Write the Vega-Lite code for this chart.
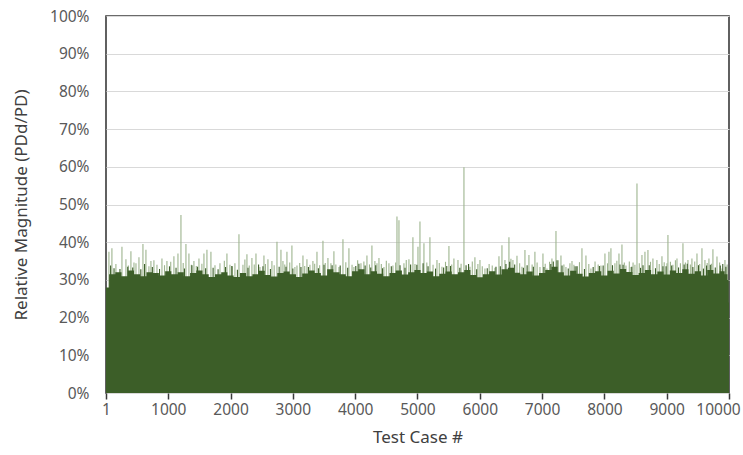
{
  "$schema": "https://vega.github.io/schema/vega-lite/v6.json",
  "width": 623,
  "height": 377,
  "autosize": "none",
  "padding": {"left": 106, "top": 16, "right": 14, "bottom": 62},
  "config": {
    "view": {"stroke": "#3a3a3a", "strokeWidth": 1.6},
    "font": "Noto Sans",
    "axis": {"labelColor": "#595959", "titleColor": "#404040", "labelFont": "Noto Sans", "titleFont": "Noto Sans", "titleFontWeight": "normal"}
  },
  "datasets": {
    "base": [
      {"case": 1, "pct": 28}, {"case": 100, "pct": 31.5}, {"case": 200, "pct": 32}, {"case": 300, "pct": 31}, {"case": 400, "pct": 32.5},
      {"case": 500, "pct": 31.5}, {"case": 600, "pct": 31}, {"case": 700, "pct": 32}, {"case": 800, "pct": 31.8}, {"case": 900, "pct": 31.2},
      {"case": 1000, "pct": 32.3}, {"case": 1100, "pct": 31.5}, {"case": 1200, "pct": 32}, {"case": 1300, "pct": 31}, {"case": 1400, "pct": 31.8},
      {"case": 1500, "pct": 32.5}, {"case": 1600, "pct": 31.5}, {"case": 1700, "pct": 30.8}, {"case": 1800, "pct": 31.5}, {"case": 1900, "pct": 32},
      {"case": 2000, "pct": 31.2}, {"case": 2100, "pct": 30.8}, {"case": 2200, "pct": 31.8}, {"case": 2300, "pct": 31}, {"case": 2400, "pct": 31.5},
      {"case": 2500, "pct": 32.4}, {"case": 2600, "pct": 31.3}, {"case": 2700, "pct": 30.9}, {"case": 2800, "pct": 31.8}, {"case": 2900, "pct": 32.2},
      {"case": 3000, "pct": 31.5}, {"case": 3100, "pct": 30.8}, {"case": 3200, "pct": 31.7}, {"case": 3300, "pct": 32.5}, {"case": 3400, "pct": 31.8},
      {"case": 3500, "pct": 31.2}, {"case": 3600, "pct": 32.8}, {"case": 3700, "pct": 32}, {"case": 3800, "pct": 31.5}, {"case": 3900, "pct": 31},
      {"case": 4000, "pct": 32.3}, {"case": 4100, "pct": 32.8}, {"case": 4200, "pct": 31.5}, {"case": 4300, "pct": 32.3}, {"case": 4400, "pct": 31.6},
      {"case": 4500, "pct": 31}, {"case": 4600, "pct": 31.8}, {"case": 4700, "pct": 32.5}, {"case": 4800, "pct": 31.4}, {"case": 4900, "pct": 32},
      {"case": 5000, "pct": 32.6}, {"case": 5100, "pct": 31.8}, {"case": 5200, "pct": 32.2}, {"case": 5300, "pct": 31}, {"case": 5400, "pct": 31.6},
      {"case": 5500, "pct": 32.2}, {"case": 5600, "pct": 31.5}, {"case": 5700, "pct": 32}, {"case": 5800, "pct": 32.6}, {"case": 5900, "pct": 31.3},
      {"case": 6000, "pct": 30.7}, {"case": 6100, "pct": 31.5}, {"case": 6200, "pct": 32.3}, {"case": 6300, "pct": 31.4}, {"case": 6400, "pct": 32.8},
      {"case": 6500, "pct": 33.2}, {"case": 6600, "pct": 31.9}, {"case": 6700, "pct": 31.5}, {"case": 6800, "pct": 32.2}, {"case": 6900, "pct": 31.2},
      {"case": 7000, "pct": 31.8}, {"case": 7100, "pct": 32.6}, {"case": 7200, "pct": 33.5}, {"case": 7300, "pct": 32}, {"case": 7400, "pct": 31.2},
      {"case": 7500, "pct": 32.4}, {"case": 7600, "pct": 31.6}, {"case": 7700, "pct": 30.9}, {"case": 7800, "pct": 31.8}, {"case": 7900, "pct": 32.3},
      {"case": 8000, "pct": 31.2}, {"case": 8100, "pct": 32.4}, {"case": 8200, "pct": 31.7}, {"case": 8300, "pct": 32.9}, {"case": 8400, "pct": 32.1},
      {"case": 8500, "pct": 31.3}, {"case": 8600, "pct": 31.8}, {"case": 8700, "pct": 32.6}, {"case": 8800, "pct": 31.5}, {"case": 8900, "pct": 32.2},
      {"case": 9000, "pct": 31.4}, {"case": 9100, "pct": 32.5}, {"case": 9200, "pct": 31.8}, {"case": 9300, "pct": 32.8}, {"case": 9400, "pct": 31.6},
      {"case": 9500, "pct": 32.3}, {"case": 9600, "pct": 31.2}, {"case": 9700, "pct": 32.6}, {"case": 9800, "pct": 31.7}, {"case": 9900, "pct": 32.3},
      {"case": 9960, "pct": 31.5}, {"case": 9990, "pct": 30}, {"case": 10000, "pct": 24}
    ],
    "spikes": [
      {"case": 48, "pct": 37.5, "kind": "max"}, {"case": 96, "pct": 38.4, "kind": "max"}, {"case": 160, "pct": 34.2, "kind": "max"}, {"case": 257, "pct": 38.8, "kind": "max"},
      {"case": 321, "pct": 35.5, "kind": "max"}, {"case": 360, "pct": 33.8, "kind": "max"}, {"case": 401, "pct": 37.6, "kind": "max"}, {"case": 450, "pct": 34.6, "kind": "max"},
      {"case": 482, "pct": 34.4, "kind": "max"}, {"case": 530, "pct": 36, "kind": "max"}, {"case": 594, "pct": 39.5, "kind": "max"}, {"case": 642, "pct": 38, "kind": "max"},
      {"case": 690, "pct": 33.6, "kind": "max"}, {"case": 722, "pct": 35, "kind": "max"}, {"case": 770, "pct": 35.2, "kind": "max"}, {"case": 819, "pct": 34, "kind": "max"},
      {"case": 899, "pct": 35.7, "kind": "max"}, {"case": 940, "pct": 33.9, "kind": "max"}, {"case": 979, "pct": 35, "kind": "max"}, {"case": 1040, "pct": 34.8, "kind": "max"},
      {"case": 1091, "pct": 36.3, "kind": "max"}, {"case": 1156, "pct": 37, "kind": "max"}, {"case": 1204, "pct": 47.2, "kind": "max"}, {"case": 1240, "pct": 34.5, "kind": "max"},
      {"case": 1284, "pct": 39.5, "kind": "max"}, {"case": 1332, "pct": 37, "kind": "max"}, {"case": 1370, "pct": 34, "kind": "max"}, {"case": 1412, "pct": 35, "kind": "max"},
      {"case": 1450, "pct": 33.7, "kind": "max"}, {"case": 1493, "pct": 35.7, "kind": "max"}, {"case": 1540, "pct": 34.3, "kind": "max"}, {"case": 1573, "pct": 37, "kind": "max"},
      {"case": 1621, "pct": 38, "kind": "max"}, {"case": 1685, "pct": 37.5, "kind": "max"}, {"case": 1750, "pct": 33.9, "kind": "max"}, {"case": 1830, "pct": 34.4, "kind": "max"},
      {"case": 1900, "pct": 35.1, "kind": "max"}, {"case": 1942, "pct": 37, "kind": "max"}, {"case": 1990, "pct": 34, "kind": "max"}, {"case": 2030, "pct": 33.6, "kind": "max"},
      {"case": 2070, "pct": 34.4, "kind": "max"}, {"case": 2135, "pct": 42.1, "kind": "max"}, {"case": 2199, "pct": 34, "kind": "max"}, {"case": 2230, "pct": 35.4, "kind": "max"},
      {"case": 2263, "pct": 36.8, "kind": "max"}, {"case": 2300, "pct": 33.8, "kind": "max"}, {"case": 2343, "pct": 35.8, "kind": "max"}, {"case": 2380, "pct": 34.1, "kind": "max"},
      {"case": 2408, "pct": 37, "kind": "max"}, {"case": 2472, "pct": 33.4, "kind": "max"}, {"case": 2536, "pct": 36.5, "kind": "max"}, {"case": 2560, "pct": 34.2, "kind": "max"},
      {"case": 2600, "pct": 35.5, "kind": "max"}, {"case": 2664, "pct": 35, "kind": "max"}, {"case": 2700, "pct": 33.9, "kind": "max"}, {"case": 2745, "pct": 40.1, "kind": "max"},
      {"case": 2809, "pct": 38, "kind": "max"}, {"case": 2841, "pct": 35, "kind": "max"}, {"case": 2870, "pct": 34.1, "kind": "max"}, {"case": 2905, "pct": 37.5, "kind": "max"},
      {"case": 2950, "pct": 34.6, "kind": "max"}, {"case": 2985, "pct": 39.1, "kind": "max"}, {"case": 3033, "pct": 33.4, "kind": "max"}, {"case": 3066, "pct": 33.8, "kind": "max"},
      {"case": 3110, "pct": 34.5, "kind": "max"}, {"case": 3162, "pct": 36.5, "kind": "max"}, {"case": 3190, "pct": 33.7, "kind": "max"}, {"case": 3226, "pct": 35.5, "kind": "max"},
      {"case": 3274, "pct": 34, "kind": "max"}, {"case": 3322, "pct": 35, "kind": "max"}, {"case": 3350, "pct": 34.3, "kind": "max"}, {"case": 3387, "pct": 37.5, "kind": "max"},
      {"case": 3430, "pct": 33.9, "kind": "max"}, {"case": 3483, "pct": 40.4, "kind": "max"}, {"case": 3520, "pct": 34.5, "kind": "max"}, {"case": 3563, "pct": 35.8, "kind": "max"},
      {"case": 3611, "pct": 34.4, "kind": "max"}, {"case": 3659, "pct": 37.6, "kind": "max"}, {"case": 3690, "pct": 34.1, "kind": "max"}, {"case": 3740, "pct": 33.4, "kind": "max"},
      {"case": 3804, "pct": 40.8, "kind": "max"}, {"case": 3850, "pct": 34.7, "kind": "max"}, {"case": 3900, "pct": 38.4, "kind": "max"}, {"case": 3950, "pct": 34, "kind": "max"},
      {"case": 3980, "pct": 33.4, "kind": "max"}, {"case": 4040, "pct": 35.2, "kind": "max"}, {"case": 4093, "pct": 34.4, "kind": "max"}, {"case": 4140, "pct": 34.9, "kind": "max"},
      {"case": 4189, "pct": 36.5, "kind": "max"}, {"case": 4230, "pct": 34.1, "kind": "max"}, {"case": 4269, "pct": 39.1, "kind": "max"}, {"case": 4317, "pct": 35, "kind": "max"},
      {"case": 4350, "pct": 34.4, "kind": "max"}, {"case": 4382, "pct": 35.8, "kind": "max"}, {"case": 4420, "pct": 34.2, "kind": "max"}, {"case": 4462, "pct": 33.4, "kind": "max"},
      {"case": 4500, "pct": 35.1, "kind": "max"}, {"case": 4542, "pct": 34.4, "kind": "max"}, {"case": 4606, "pct": 33.8, "kind": "max"}, {"case": 4650, "pct": 34.6, "kind": "max"},
      {"case": 4671, "pct": 46.8, "kind": "max"}, {"case": 4703, "pct": 45.8, "kind": "max"}, {"case": 4783, "pct": 34.4, "kind": "max"}, {"case": 4820, "pct": 35.3, "kind": "max"},
      {"case": 4863, "pct": 35.5, "kind": "max"}, {"case": 4927, "pct": 41.3, "kind": "max"}, {"case": 4960, "pct": 34.2, "kind": "max"}, {"case": 5008, "pct": 38.8, "kind": "max"},
      {"case": 5040, "pct": 45.5, "kind": "max"}, {"case": 5104, "pct": 39.7, "kind": "max"}, {"case": 5150, "pct": 34.6, "kind": "max"}, {"case": 5200, "pct": 41.3, "kind": "max"},
      {"case": 5250, "pct": 34, "kind": "max"}, {"case": 5313, "pct": 35.3, "kind": "max"}, {"case": 5350, "pct": 34.5, "kind": "max"}, {"case": 5393, "pct": 33.5, "kind": "max"},
      {"case": 5450, "pct": 34.8, "kind": "max"}, {"case": 5505, "pct": 39, "kind": "max"}, {"case": 5550, "pct": 34.1, "kind": "max"}, {"case": 5585, "pct": 35.7, "kind": "max"},
      {"case": 5650, "pct": 35.3, "kind": "max"}, {"case": 5700, "pct": 34.3, "kind": "max"}, {"case": 5746, "pct": 59.9, "kind": "max"}, {"case": 5842, "pct": 33.5, "kind": "max"},
      {"case": 5880, "pct": 34.9, "kind": "max"}, {"case": 5922, "pct": 36, "kind": "max"}, {"case": 5970, "pct": 34.2, "kind": "max"}, {"case": 6003, "pct": 35.3, "kind": "max"},
      {"case": 6040, "pct": 33.6, "kind": "max"}, {"case": 6083, "pct": 33, "kind": "max"}, {"case": 6150, "pct": 34.2, "kind": "max"}, {"case": 6200, "pct": 33.8, "kind": "max"},
      {"case": 6243, "pct": 33.2, "kind": "max"}, {"case": 6308, "pct": 36.3, "kind": "max"}, {"case": 6356, "pct": 39.2, "kind": "max"}, {"case": 6404, "pct": 35.3, "kind": "max"},
      {"case": 6468, "pct": 41.3, "kind": "max"}, {"case": 6500, "pct": 35.6, "kind": "max"}, {"case": 6532, "pct": 35.3, "kind": "max"}, {"case": 6597, "pct": 36.4, "kind": "max"},
      {"case": 6640, "pct": 34.4, "kind": "max"}, {"case": 6677, "pct": 33.5, "kind": "max"}, {"case": 6725, "pct": 37.9, "kind": "max"}, {"case": 6789, "pct": 36.6, "kind": "max"},
      {"case": 6840, "pct": 34.1, "kind": "max"}, {"case": 6885, "pct": 37.5, "kind": "max"}, {"case": 6920, "pct": 34.6, "kind": "max"}, {"case": 6966, "pct": 33.4, "kind": "max"},
      {"case": 7014, "pct": 37, "kind": "max"}, {"case": 7050, "pct": 34.3, "kind": "max"}, {"case": 7078, "pct": 33, "kind": "max"}, {"case": 7120, "pct": 34.8, "kind": "max"},
      {"case": 7158, "pct": 35.7, "kind": "max"}, {"case": 7223, "pct": 43, "kind": "max"}, {"case": 7260, "pct": 35.2, "kind": "max"}, {"case": 7303, "pct": 36.5, "kind": "max"},
      {"case": 7350, "pct": 34.1, "kind": "max"}, {"case": 7383, "pct": 33.4, "kind": "max"}, {"case": 7447, "pct": 34.4, "kind": "max"}, {"case": 7480, "pct": 35, "kind": "max"},
      {"case": 7511, "pct": 34, "kind": "max"}, {"case": 7560, "pct": 33.6, "kind": "max"}, {"case": 7600, "pct": 34.7, "kind": "max"}, {"case": 7640, "pct": 38.4, "kind": "max"},
      {"case": 7704, "pct": 36.5, "kind": "max"}, {"case": 7750, "pct": 34.2, "kind": "max"}, {"case": 7784, "pct": 33, "kind": "max"}, {"case": 7850, "pct": 34.9, "kind": "max"},
      {"case": 7900, "pct": 34.1, "kind": "max"}, {"case": 7945, "pct": 33.8, "kind": "max"}, {"case": 8009, "pct": 37, "kind": "max"}, {"case": 8050, "pct": 34.4, "kind": "max"},
      {"case": 8073, "pct": 37.5, "kind": "max"}, {"case": 8105, "pct": 38.4, "kind": "max"}, {"case": 8169, "pct": 34.4, "kind": "max"}, {"case": 8200, "pct": 35.1, "kind": "max"},
      {"case": 8234, "pct": 37, "kind": "max"}, {"case": 8282, "pct": 39.4, "kind": "max"}, {"case": 8320, "pct": 34.6, "kind": "max"}, {"case": 8346, "pct": 33.8, "kind": "max"},
      {"case": 8400, "pct": 34.9, "kind": "max"}, {"case": 8426, "pct": 33.4, "kind": "max"}, {"case": 8460, "pct": 34.6, "kind": "max"}, {"case": 8490, "pct": 34, "kind": "max"},
      {"case": 8523, "pct": 55.6, "kind": "max"}, {"case": 8560, "pct": 34.4, "kind": "max"}, {"case": 8603, "pct": 36.6, "kind": "max"}, {"case": 8651, "pct": 37.5, "kind": "max"},
      {"case": 8699, "pct": 37.9, "kind": "max"}, {"case": 8740, "pct": 34.8, "kind": "max"}, {"case": 8779, "pct": 35.7, "kind": "max"}, {"case": 8843, "pct": 35.3, "kind": "max"},
      {"case": 8880, "pct": 34.2, "kind": "max"}, {"case": 8924, "pct": 36.3, "kind": "max"}, {"case": 8960, "pct": 34.7, "kind": "max"}, {"case": 9004, "pct": 34.4, "kind": "max"},
      {"case": 9020, "pct": 41.9, "kind": "max"}, {"case": 9060, "pct": 34.8, "kind": "max"}, {"case": 9100, "pct": 34, "kind": "max"}, {"case": 9140, "pct": 35.2, "kind": "max"},
      {"case": 9165, "pct": 35.7, "kind": "max"}, {"case": 9220, "pct": 34.4, "kind": "max"}, {"case": 9261, "pct": 39.7, "kind": "max"}, {"case": 9300, "pct": 34.6, "kind": "max"},
      {"case": 9341, "pct": 35.3, "kind": "max"}, {"case": 9380, "pct": 34.1, "kind": "max"}, {"case": 9405, "pct": 35.7, "kind": "max"}, {"case": 9450, "pct": 34.9, "kind": "max"},
      {"case": 9486, "pct": 37, "kind": "max"}, {"case": 9530, "pct": 34.2, "kind": "max"}, {"case": 9566, "pct": 38.4, "kind": "max"}, {"case": 9614, "pct": 35.3, "kind": "max"},
      {"case": 9650, "pct": 34.5, "kind": "max"}, {"case": 9678, "pct": 35.7, "kind": "max"}, {"case": 9720, "pct": 34.3, "kind": "max"}, {"case": 9742, "pct": 38.1, "kind": "max"},
      {"case": 9807, "pct": 36.2, "kind": "max"}, {"case": 9850, "pct": 34.6, "kind": "max"}, {"case": 9888, "pct": 33, "kind": "max"}, {"case": 9935, "pct": 35.3, "kind": "max"},
      {"case": 9970, "pct": 34.1, "kind": "max"},
      {"case": 75, "pct": 33.8, "kind": "dark"}, {"case": 350, "pct": 33.5, "kind": "dark"}, {"case": 620, "pct": 34.2, "kind": "dark"}, {"case": 1020, "pct": 33.6, "kind": "dark"},
      {"case": 1380, "pct": 33.9, "kind": "dark"}, {"case": 1720, "pct": 33.2, "kind": "dark"}, {"case": 2020, "pct": 33.7, "kind": "dark"}, {"case": 2450, "pct": 34.1, "kind": "dark"},
      {"case": 2780, "pct": 33.5, "kind": "dark"}, {"case": 3130, "pct": 33.4, "kind": "dark"}, {"case": 3500, "pct": 34, "kind": "dark"}, {"case": 3760, "pct": 33.8, "kind": "dark"},
      {"case": 4060, "pct": 34.3, "kind": "dark"}, {"case": 4330, "pct": 33.9, "kind": "dark"}, {"case": 4580, "pct": 33.6, "kind": "dark"}, {"case": 4890, "pct": 34.1, "kind": "dark"},
      {"case": 5090, "pct": 34.4, "kind": "dark"}, {"case": 5470, "pct": 33.7, "kind": "dark"}, {"case": 5820, "pct": 34.2, "kind": "dark"}, {"case": 6260, "pct": 33.5, "kind": "dark"},
      {"case": 6480, "pct": 34.8, "kind": "dark"}, {"case": 6760, "pct": 33.9, "kind": "dark"}, {"case": 7180, "pct": 34.9, "kind": "dark"}, {"case": 7240, "pct": 35.2, "kind": "dark"},
      {"case": 7560, "pct": 33.6, "kind": "dark"}, {"case": 7980, "pct": 33.8, "kind": "dark"}, {"case": 8250, "pct": 34.1, "kind": "dark"}, {"case": 8620, "pct": 33.9, "kind": "dark"},
      {"case": 8990, "pct": 33.6, "kind": "dark"}, {"case": 9330, "pct": 34.3, "kind": "dark"}, {"case": 9640, "pct": 33.8, "kind": "dark"}, {"case": 9900, "pct": 34.2, "kind": "dark"},
      {"case": 130, "pct": 33.1, "kind": "dark"}, {"case": 225, "pct": 32.9, "kind": "dark"}, {"case": 430, "pct": 33.3, "kind": "dark"}, {"case": 560, "pct": 32.8, "kind": "dark"},
      {"case": 745, "pct": 33.4, "kind": "dark"}, {"case": 860, "pct": 32.9, "kind": "dark"}, {"case": 1125, "pct": 33.2, "kind": "dark"}, {"case": 1260, "pct": 33, "kind": "dark"},
      {"case": 1470, "pct": 33.5, "kind": "dark"}, {"case": 1600, "pct": 33.1, "kind": "dark"}, {"case": 1800, "pct": 32.8, "kind": "dark"}, {"case": 1920, "pct": 33.4, "kind": "dark"},
      {"case": 2110, "pct": 32.7, "kind": "dark"}, {"case": 2280, "pct": 33.2, "kind": "dark"}, {"case": 2520, "pct": 33.6, "kind": "dark"}, {"case": 2640, "pct": 32.9, "kind": "dark"},
      {"case": 2890, "pct": 33.5, "kind": "dark"}, {"case": 3000, "pct": 33, "kind": "dark"}, {"case": 3250, "pct": 33.4, "kind": "dark"}, {"case": 3410, "pct": 33.1, "kind": "dark"},
      {"case": 3630, "pct": 33.9, "kind": "dark"}, {"case": 3880, "pct": 33.2, "kind": "dark"}, {"case": 4010, "pct": 33.7, "kind": "dark"}, {"case": 4160, "pct": 33.8, "kind": "dark"},
      {"case": 4250, "pct": 33.3, "kind": "dark"}, {"case": 4440, "pct": 33.1, "kind": "dark"}, {"case": 4720, "pct": 33.9, "kind": "dark"}, {"case": 4800, "pct": 33.2, "kind": "dark"},
      {"case": 4990, "pct": 34, "kind": "dark"}, {"case": 5170, "pct": 33.6, "kind": "dark"}, {"case": 5290, "pct": 33, "kind": "dark"}, {"case": 5420, "pct": 33.3, "kind": "dark"},
      {"case": 5530, "pct": 33.7, "kind": "dark"}, {"case": 5680, "pct": 33.2, "kind": "dark"}, {"case": 5780, "pct": 33.9, "kind": "dark"}, {"case": 5950, "pct": 32.8, "kind": "dark"},
      {"case": 6120, "pct": 33.1, "kind": "dark"}, {"case": 6330, "pct": 33.6, "kind": "dark"}, {"case": 6420, "pct": 34.2, "kind": "dark"}, {"case": 6560, "pct": 34.1, "kind": "dark"},
      {"case": 6700, "pct": 33.2, "kind": "dark"}, {"case": 6860, "pct": 33.5, "kind": "dark"}, {"case": 7030, "pct": 33.4, "kind": "dark"}, {"case": 7140, "pct": 34.2, "kind": "dark"},
      {"case": 7320, "pct": 33.8, "kind": "dark"}, {"case": 7420, "pct": 33, "kind": "dark"}, {"case": 7530, "pct": 33.6, "kind": "dark"}, {"case": 7680, "pct": 32.9, "kind": "dark"},
      {"case": 7820, "pct": 33.4, "kind": "dark"}, {"case": 7920, "pct": 33.7, "kind": "dark"}, {"case": 8130, "pct": 33.9, "kind": "dark"}, {"case": 8300, "pct": 34, "kind": "dark"},
      {"case": 8440, "pct": 33.5, "kind": "dark"}, {"case": 8580, "pct": 33.2, "kind": "dark"}, {"case": 8720, "pct": 33.9, "kind": "dark"}, {"case": 8820, "pct": 33.1, "kind": "dark"},
      {"case": 8940, "pct": 33.6, "kind": "dark"}, {"case": 9080, "pct": 33.8, "kind": "dark"}, {"case": 9190, "pct": 33.3, "kind": "dark"}, {"case": 9280, "pct": 34.1, "kind": "dark"},
      {"case": 9420, "pct": 33.4, "kind": "dark"}, {"case": 9510, "pct": 33.9, "kind": "dark"}, {"case": 9590, "pct": 33, "kind": "dark"}, {"case": 9700, "pct": 34, "kind": "dark"},
      {"case": 9780, "pct": 33.3, "kind": "dark"}, {"case": 9860, "pct": 33.8, "kind": "dark"}, {"case": 9950, "pct": 33.5, "kind": "dark"}
    ]
  },
  "encoding": {
    "x": {
      "field": "case",
      "type": "quantitative",
      "scale": {"domain": [1, 10000], "nice": false, "zero": false},
      "axis": {
        "title": "Test Case #",
        "values": [1, 1000, 2000, 3000, 4000, 5000, 6000, 7000, 8000, 9000, 10000],
        "format": "d",
        "grid": false,
        "domain": false,
        "tickColor": "#3a3a3a",
        "tickWidth": 1.5,
        "tickSize": 6,
        "labelFontSize": 15.5,
        "labelPadding": 3,
        "labelFlush": false,
        "labelOffset": {"condition": {"test": "datum.value == 10000", "value": -11}, "value": 0},
        "titleFontSize": 17,
        "titlePadding": 12
      }
    },
    "y": {
      "field": "pct",
      "type": "quantitative",
      "scale": {"domain": [0, 100], "nice": false},
      "axis": {
        "title": "Relative Magnitude (PDd/PD)",
        "values": [0, 10, 20, 30, 40, 50, 60, 70, 80, 90, 100],
        "labelExpr": "datum.value + '%'",
        "grid": true,
        "gridColor": "#d9d9d9",
        "gridWidth": 1.2,
        "domain": false,
        "ticks": false,
        "labelFontSize": 15.5,
        "labelPadding": 17,
        "titleFontSize": 17,
        "titlePadding": 19
      }
    }
  },
  "layer": [
    {
      "data": {"name": "spikes"},
      "mark": {"type": "rule", "strokeWidth": 1.1},
      "encoding": {
        "y2": {"datum": 0},
        "color": {"field": "kind", "type": "nominal", "scale": {"domain": ["max", "dark"], "range": ["#9db48e", "#3c5e28"]}, "legend": null}
      }
    },
    {
      "data": {"name": "base"},
      "mark": {"type": "area", "interpolate": "step", "color": "#3c5e28"},
      "encoding": {}
    }
  ]
}
